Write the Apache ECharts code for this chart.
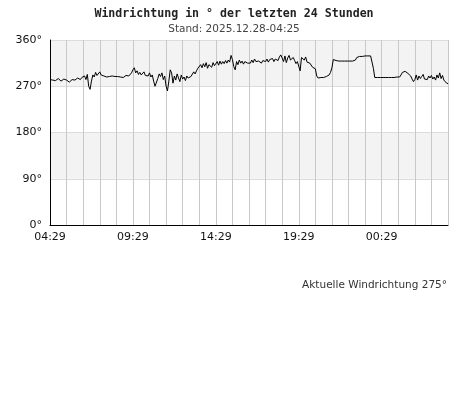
<!DOCTYPE html>
<html>
<head>
<meta charset="utf-8">
<script src="https://cdn.jsdelivr.net/npm/echarts@6/dist/echarts.min.js"></script>
<style>html,body{margin:0;padding:0;background:#fff;}#c{width:468px;height:415px;}</style>
</head>
<body>
<div id="c"></div>
<script>
var titleText = 'Windrichtung in ° der letzten 24 Stunden';
var subtitleText = 'Stand: 2025.12.28-04:25';
var currentText = 'Aktuelle Windrichtung 275°';
var xTickLabels = ['04:29', '09:29', '14:29', '19:29', '00:29'];
var yTicks = [0, 90, 180, 270, 360];
// wind direction, one value every 5 minutes, 24 hours (12 per hour)
var direction = [
  283,285,282,284,281,283,285,282,280,283,284,282,
  282,280,278,281,283,284,282,285,286,284,283,287,
  286,290,283,293,270,264,280,292,288,297,291,289,
  298,292,295,290,293,288,291,289,287,290,288,289,
  287,289,286,288,290,287,289,291,293,290,292,296,
  302,306,296,300,293,297,292,295,298,291,294,290,
  296,288,292,280,270,268,285,294,289,296,283,290,
  270,261,280,302,296,276,290,282,294,286,279,292,
  284,288,281,290,286,283,289,292,298,294,300,305,
  306,312,306,314,308,316,305,312,314,307,316,310,
  312,318,311,319,313,318,314,320,315,321,317,330,
  322,308,302,318,312,321,315,319,313,318,320,315,
  318,315,321,316,323,318,316,319,322,315,320,320,
  318,323,317,322,319,324,318,323,325,320,327,331,
  325,318,329,316,325,330,321,318,326,320,314,318,
  321,300,326,329,321,327,317,320,315,312,307,304,
  304,290,286,286,287,286,287,288,289,289,292,297,
  306,322,323,320,319,319,319,319,319,319,319,319,
  319,319,319,319,319,321,326,325,328,328,328,328,
  329,328,329,329,329,329,305,287,287,287,287,287,
  287,287,287,287,287,287,287,287,287,287,287,288,
  288,288,292,297,298,299,297,295,296,290,284,279,
  283,292,282,290,285,289,293,284,287,283,290,286,
  291,284,288,282,292,286,296,285,291,282,279,276,
  275
];
var seriesData = direction.map(function (v, i) { return [i / 12, v]; });

var chart = echarts.init(document.getElementById('c'), null, {renderer: 'canvas'});
chart.setOption({
  animation: false,
  backgroundColor: '#fff',
  title: [{
    text: titleText,
    left: 'center', top: 3,
    textStyle: {fontFamily: 'DejaVu Sans Mono', fontWeight: 'bold', fontSize: 11.6, color: '#222'}
  }, {
    text: subtitleText,
    left: 'center', top: 19,
    textStyle: {fontFamily: 'DejaVu Sans', fontWeight: 'normal', fontSize: 10.5, color: '#444'}
  }],
  grid: {left: 50, top: 40, width: 398, height: 185, containLabel: false},
  xAxis: {
    type: 'value', min: 0, max: 24, interval: 1,
    axisLine: {show: true, onZero: false, lineStyle: {color: '#000', width: 1}},
    axisTick: {show: false},
    axisLabel: {
      fontFamily: 'DejaVu Sans', fontSize: 11, color: '#111', margin: 7,
      showMaxLabel: false,
      formatter: function (v) { return (v % 5 === 0 && v / 5 < xTickLabels.length) ? xTickLabels[v / 5] : ''; }
    },
    splitLine: {show: true, lineStyle: {color: '#c8c8c8', width: 1}}
  },
  yAxis: {
    type: 'value', min: 0, max: 360, interval: 90,
    axisLine: {show: true, lineStyle: {color: '#000', width: 1}},
    axisTick: {show: false},
    axisLabel: {fontFamily: 'DejaVu Sans', fontSize: 11, color: '#111', margin: 8,
      formatter: function (v) { return yTicks.indexOf(v) >= 0 ? v + '°' : ''; }},
    splitLine: {show: true, lineStyle: {color: '#dcdcdc', width: 1}},
    splitArea: {show: true, areaStyle: {color: ['#ffffff', '#f3f3f3']}}
  },
  graphic: [{
    type: 'text', right: 21, top: 280,
    style: {text: currentText, font: '10.5px "DejaVu Sans"', fill: '#333'}
  }],
  series: [{
    type: 'line', data: seriesData, showSymbol: false, symbol: 'none',
    lineStyle: {color: '#000', width: 1}, z: 5
  }]
});
</script>
</body>
</html>
